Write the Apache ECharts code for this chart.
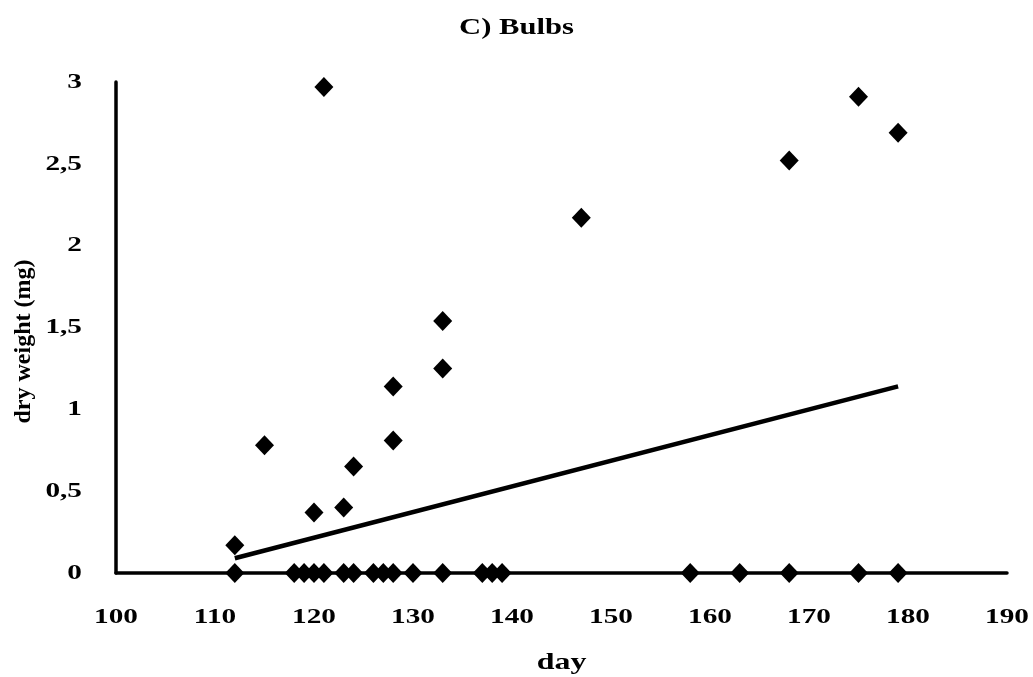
<!DOCTYPE html>
<html>
<head>
<meta charset="utf-8">
<script src="https://cdn.jsdelivr.net/npm/echarts@6/dist/echarts.min.js"></script>
<style>html,body{margin:0;padding:0;background:#fff}#c{width:1033px;height:677px}</style>
</head>
<body>
<div id="c"></div>
<script>
// Observed points (day, dry weight mg)
const days = [112,112,115,118,119,120,120,121,121,123,123,124,124,126,127,128,128,128,130,133,133,133,137,138,139,147,158,163,168,168,175,175,179,179];
const weights = [0.17,0,0.78,0,0,0.37,0,2.97,0,0.40,0,0.65,0,0,0,0.81,1.14,0,0,1.25,1.54,0,0,0,0,2.17,0,0,2.52,0,2.91,0,2.69,0];
// Linear trendline endpoints
const trendDays = [112, 179];
const trendWeights = [0.09, 1.14];
const xTicks = [100,110,120,130,140,150,160,170,180,190];
const yTicks = [0,0.5,1,1.5,2,2.5,3];

// Wide serif look: stretch horizontal text glyphs, keeping the anchor semantics
(function(){
  const S = 1.33;
  const P = CanvasRenderingContext2D.prototype;
  const orig = P.fillText;
  P.fillText = function(t, x, y, mw){
    const m = this.getTransform();
    if (Math.abs(m.b) < 1e-6 && Math.abs(m.c) < 1e-6) {
      const a = this.textAlign;
      const w = this.measureText(t).width;
      let left;
      if (a === 'right' || a === 'end') left = x - w * S;
      else if (a === 'center') left = x - w * S / 2;
      else left = x;
      this.save();
      this.textAlign = 'left';
      this.translate(left, y);
      this.scale(S, 1);
      orig.call(this, t, 0, 0);
      this.restore();
    } else {
      orig.call(this, t, x, y, mw);
    }
  };
})();

const font = '"Liberation Serif","Times New Roman",serif';
const chart = echarts.init(document.getElementById('c'), null, {renderer: 'canvas'});
chart.setOption({
  animation: false,
  backgroundColor: '#fff',
  title: {
    text: 'C) Bulbs', left: 'center', top: 12,
    textStyle: {fontFamily: font, fontWeight: 'bold', fontSize: 23, color: '#000'}
  },
  grid: {left: 116, right: 26, top: 82, bottom: 104, containLabel: false, outerBoundsMode: 'none'},
  xAxis: {
    type: 'value', min: xTicks[0], max: xTicks[xTicks.length-1], interval: 10,
    name: 'day', nameLocation: 'middle', nameGap: 78,
    nameTextStyle: {fontFamily: font, fontWeight: 'bold', fontSize: 24, color: '#000'},
    axisLine: {show: true, lineStyle: {color: '#000', width: 3.5}},
    axisTick: {show: false},
    splitLine: {show: false},
    axisLabel: {fontFamily: font, fontWeight: 'bold', fontSize: 22, color: '#000', margin: 33}
  },
  yAxis: {
    type: 'value', min: yTicks[0], max: yTicks[yTicks.length-1], interval: 0.5,
    name: 'dry weight (mg)', nameLocation: 'middle', nameGap: 80,
    nameTextStyle: {fontFamily: font, fontWeight: 'bold', fontSize: 24, color: '#000', padding: [0, 28, 0, 0]},
    axisLine: {show: true, lineStyle: {color: '#000', width: 3.5}},
    axisTick: {show: false},
    splitLine: {show: false},
    axisLabel: {fontFamily: font, fontWeight: 'bold', fontSize: 22, color: '#000', margin: 34,
      formatter: v => String(v).replace('.', ',')}
  },
  series: [
    {
      type: 'line', data: trendDays.map((d,i)=>[d, trendWeights[i]]),
      showSymbol: false, symbol: 'none', lineStyle: {color: '#000', width: 4.5}, z: 2
    },
    {
      type: 'scatter', data: days.map((d,i)=>[d, weights[i]]),
      symbol: 'diamond', symbolSize: [19, 20], itemStyle: {color: '#000', opacity: 1}, z: 3
    }
  ]
});
</script>
</body>
</html>
